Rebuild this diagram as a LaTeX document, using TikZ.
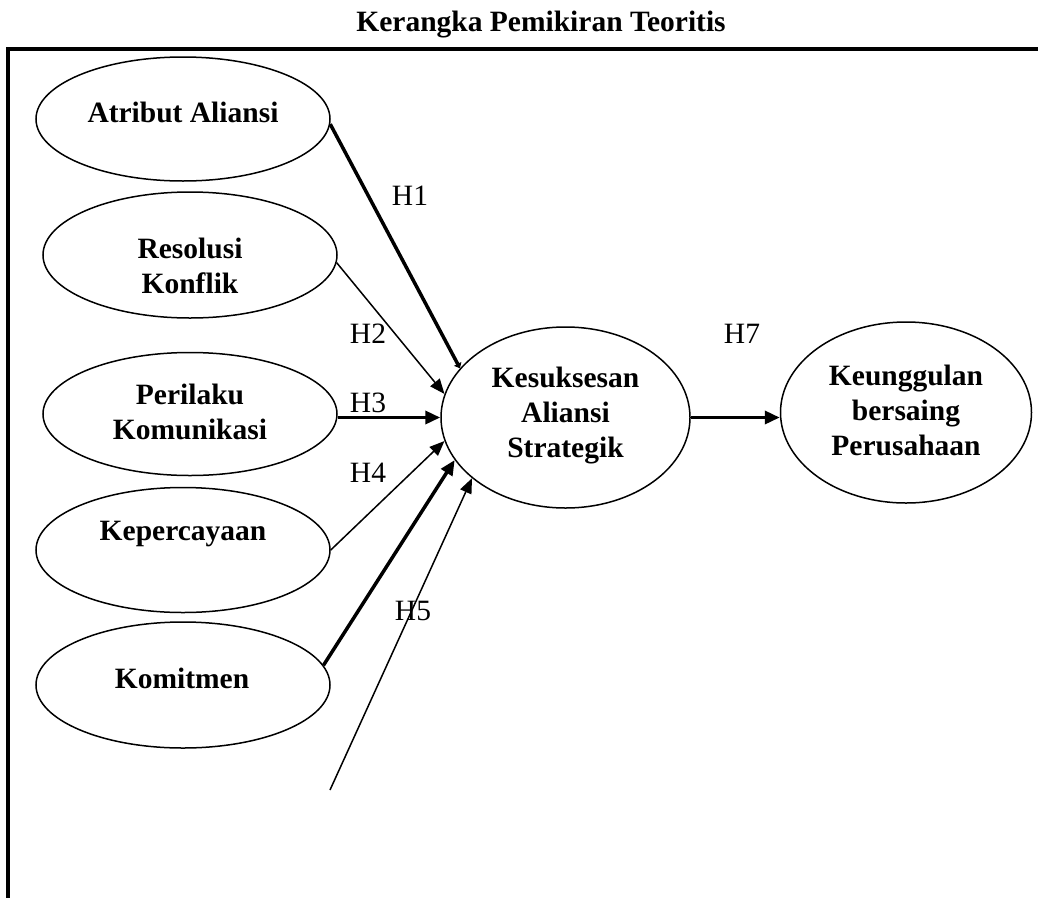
\documentclass[tikz,border=0pt]{standalone}
\usepackage{fontspec}
\setmainfont{Liberation Serif}
\usetikzlibrary{shapes.geometric,arrows.meta}
\tikzset{
  oval/.style={draw, ellipse, line width=1.5pt, inner sep=0pt},
  lbl/.style={font=\fontsize{29.5}{35}\selectfont\bfseries, align=center, inner sep=0pt},
  hlab/.style={font=\fontsize{29.5}{35}\selectfont, inner sep=0pt, anchor=base},
  thinarrow/.style={line width=1.5pt, -{Triangle[length=15pt,width=12pt]}},
  thickarrow/.style={line width=3.5pt, -{Triangle[length=15pt,width=13pt]}},
  smallarrow/.style={line width=3.5pt, -{Triangle[length=5pt,width=8pt]}},
  frame/.style={line width=4pt, line join=miter},
}
\begin{document}
\begin{tikzpicture}[x=1pt,y=-1pt]
\useasboundingbox (0,0) rectangle (1038,897);

% title and frame
\node[lbl, anchor=base] (title) at (541,31) {Kerangka Pemikiran Teoritis};
\draw[frame] (8,900) -- (8,49) -- (1042,49);

% ellipses
\node[oval, minimum width=294pt, minimum height=124pt] (e1) at (183,119) {};
\node[oval, minimum width=294pt, minimum height=126pt] (e2) at (190,255) {};
\node[oval, minimum width=294pt, minimum height=123pt] (e3) at (190,414) {};
\node[oval, minimum width=294pt, minimum height=125pt] (e4) at (183,550) {};
\node[oval, minimum width=294pt, minimum height=126pt] (e5) at (183,685) {};
\node[oval, minimum width=249pt, minimum height=181pt] (k) at (565.5,417.5) {};
\node[oval, minimum width=251pt, minimum height=181pt] (u) at (906,412.5) {};

% texts
\node[lbl, anchor=base] (t1) at (183,122) {Atribut Aliansi};
\node[lbl] (t2) at (190,266) {Resolusi\\Konflik};
\node[lbl] (t3) at (190,412) {Perilaku\\Komunikasi};
\node[lbl, anchor=base] (t4) at (183,540) {Kepercayaan};
\node[lbl, anchor=base] (t5) at (182,688) {Komitmen};
\node[lbl] (t6) at (565.5,415.7) {Kesuksesan\\Aliansi\\Strategik};
\node[lbl] (t7) at (906,410.5) {Keunggulan\\bersaing\\Perusahaan};

% connectors
\coordinate (s) at (330,790);
\draw[smallarrow] (e1.-2) -- (k.155);
\draw[thinarrow] (e2.-3) -- (k.169.5);
\draw[thickarrow] (e3.east |- k.west) -- (k.west);
\draw[thinarrow] (e4.east) -- (k.191.4);
\draw[thickarrow] (e5.8) -- (k.201);
\draw[thinarrow] (s) -- (k.213);
\draw[thickarrow] (k.east) -- (k.east -| u.west);

% hypothesis labels
\node[hlab] (h1) at (410,205) {H1};
\node[hlab] (h2) at (368,343) {H2};
\node[hlab] (h3) at (368,412) {H3};
\node[hlab] (h4) at (368,482) {H4};
\node[hlab] (h5) at (413,620) {H5};
\node[hlab] (h7) at (742,343) {H7};
\end{tikzpicture}
\end{document}
